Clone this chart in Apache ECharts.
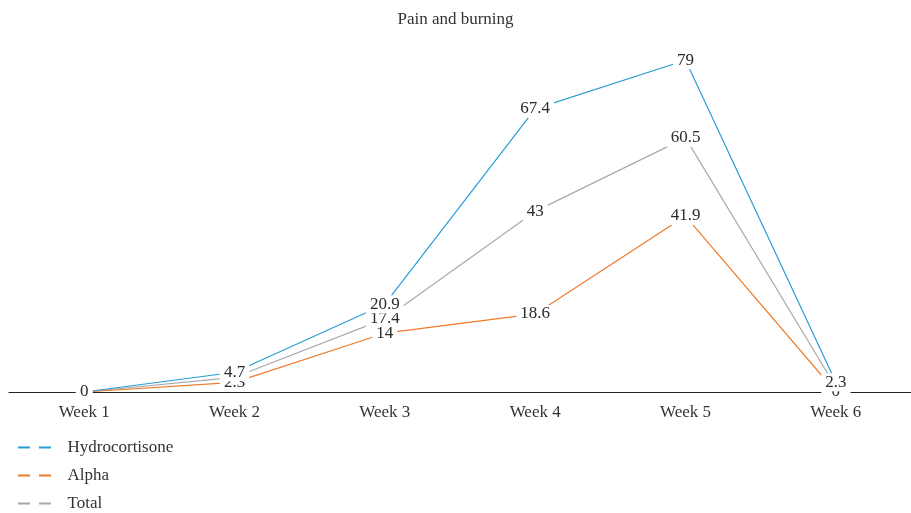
<!DOCTYPE html>
<html>
<head>
<meta charset="utf-8">
<script src="https://cdn.jsdelivr.net/npm/echarts@6/dist/echarts.min.js"></script>
<style>
  html, body { margin: 0; padding: 0; background: #fff; }
  #chart { width: 911px; height: 513px; }
</style>
</head>
<body>
<div id="chart"></div>
<script>
// Weekly scores for pain and burning
const weeks = ['Week 1', 'Week 2', 'Week 3', 'Week 4', 'Week 5', 'Week 6'];
const hydrocortisone = [0, 4.7, 20.9, 67.4, 79, 2.3];
const alpha = [0, 2.3, 14, 18.6, 41.9, 0];
const total = [0, 3.5, 17.4, 43, 60.5, 1.2];

const FONT = '"Liberation Serif", "Times New Roman", serif';

function lineSeries(name, data, color) {
  return {
    name: name,
    type: 'line',
    data: data,
    symbol: 'circle',
    symbolSize: 0,
    showSymbol: true,
    lineStyle: { color: color, width: 1.2 },
    itemStyle: { color: color },
    label: {
      show: true,
      position: 'inside',
      fontFamily: FONT,
      fontSize: 17,
      color: '#2b2b2b',
      backgroundColor: '#fff',
      padding: [1, 4, 0, 4]
    },
    emphasis: { disabled: true }
  };
}

const chart = echarts.init(document.getElementById('chart'));
chart.setOption({
  animation: false,
  backgroundColor: '#fff',
  title: {
    text: 'Pain and burning',
    left: 'center',
    top: 6,
    textStyle: { fontFamily: FONT, fontSize: 17, fontWeight: 'normal', color: '#333' }
  },
  legend: {
    orient: 'vertical',
    left: 18,
    top: 439,
    padding: 0,
    itemGap: 11,
    itemWidth: 34,
    itemHeight: 2,
    icon: 'path://M0 0H12V2H0Z M21 0H33V2H21Z',
    textStyle: { fontFamily: FONT, fontSize: 17, color: '#333', padding: [0, 0, 0, 11] },
    data: ['Hydrocortisone', 'Alpha', 'Total']
  },
  grid: { left: 9, right: -6, top: 56, bottom: 121 },
  xAxis: {
    type: 'category',
    data: weeks,
    boundaryGap: true,
    axisLine: { lineStyle: { color: '#222', width: 1.2 } },
    axisTick: { show: false },
    axisLabel: { fontFamily: FONT, fontSize: 17, color: '#333', margin: 12 }
  },
  yAxis: {
    type: 'value',
    min: 0,
    max: 80,
    show: false
  },
  // drawn back to front so the Hydrocortisone labels sit on top
  series: [
    lineSeries('Total', total, '#a9a9a9'),
    lineSeries('Alpha', alpha, '#f07a2c'),
    lineSeries('Hydrocortisone', hydrocortisone, '#2a9dd6')
  ]
});
</script>
</body>
</html>
